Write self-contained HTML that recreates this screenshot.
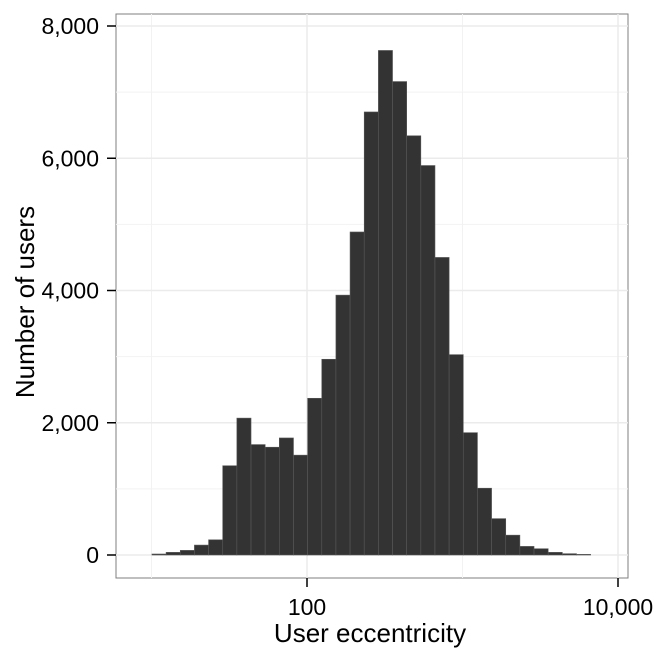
<!DOCTYPE html>
<html><head><meta charset="utf-8"><style>
body{margin:0;background:#fff;}
svg text{font-family:"Liberation Sans",sans-serif;}
</style></head><body>
<svg id="chart" width="662" height="656" xmlns="http://www.w3.org/2000/svg">
<rect x="116" y="14" width="512" height="564" fill="#fff" stroke="#7f7f7f" stroke-width="1"/>
<g id="grid"></g>
<g id="bars"></g>
<g id="axes"></g>
<text x="370" y="642" font-size="26" text-anchor="middle" fill="#000">User eccentricity</text>
<text transform="translate(34,302) rotate(-90)" font-size="26" text-anchor="middle" fill="#000">Number of users</text>
</svg>
<script>
const binStartLog = 1.003;
const binWidthLog = 0.091;
const counts = [15,40,70,150,230,1350,2070,1670,1630,1770,1510,2370,2960,3930,4885,6700,7630,7160,6340,5890,4500,3030,1850,1010,550,300,130,95,40,20,10];
const yTicks = [0,2000,4000,6000,8000];
const yTickLabels = ["0","2,000","4,000","6,000","8,000"];
const xTicks = [100,10000];
const xTickLabels = ["100","10,000"];
const yMinor = [1000,3000,5000,7000];
const xMinor = [10,1000];

const NS="http://www.w3.org/2000/svg";
function xs(v){return 307+(Math.log10(v)-2)*155.5;}
function xl(l){return 307+(l-2)*155.5;}
function ys(v){return 555-v*(529/8000);}
function mk(tag,attrs,parent){const e=document.createElementNS(NS,tag);for(const k in attrs)e.setAttribute(k,attrs[k]);parent.appendChild(e);return e;}
const grid=document.getElementById('grid'),bars=document.getElementById('bars'),axes=document.getElementById('axes');
yMinor.forEach(v=>{const l=mk('line',{x1:116,x2:628,y1:ys(v),y2:ys(v),stroke:'#f2f2f2','stroke-width':1},grid);

});
xMinor.forEach(v=>{const l=mk('line',{x1:xs(v),x2:xs(v),y1:14,y2:578,stroke:'#f2f2f2','stroke-width':1},grid);

});
yTicks.forEach(v=>{const l=mk('line',{x1:116,x2:628,y1:ys(v),y2:ys(v),stroke:'#ebebeb','stroke-width':1.5},grid);

});
xTicks.forEach(v=>{const l=mk('line',{x1:xs(v),x2:xs(v),y1:14,y2:578,stroke:'#ebebeb','stroke-width':1.5},grid);

});
counts.forEach((c,i)=>{const a=xl(binStartLog+i*binWidthLog),b=xl(binStartLog+(i+1)*binWidthLog);
const r=mk('rect',{x:a,y:ys(c),width:b-a,height:ys(0)-ys(c),fill:'#333333',stroke:'#595959','stroke-width':0.6},bars);

});
yTicks.forEach((v,i)=>{const t=mk('line',{x1:107,x2:116,y1:ys(v),y2:ys(v),stroke:'#000','stroke-width':1.5},axes);


const tx=mk('text',{x:99,y:ys(v)+8,'font-size':23,'text-anchor':'end',fill:'#000'},axes);tx.textContent=yTickLabels[i];

});
xTicks.forEach((v,i)=>{const t=mk('line',{x1:xs(v),x2:xs(v),y1:578,y2:587,stroke:'#000','stroke-width':1.5},axes);


const tx=mk('text',{x:xs(v),y:615,'font-size':23,'text-anchor':'middle',fill:'#000'},axes);tx.textContent=xTickLabels[i];

});
</script>
</body></html>
